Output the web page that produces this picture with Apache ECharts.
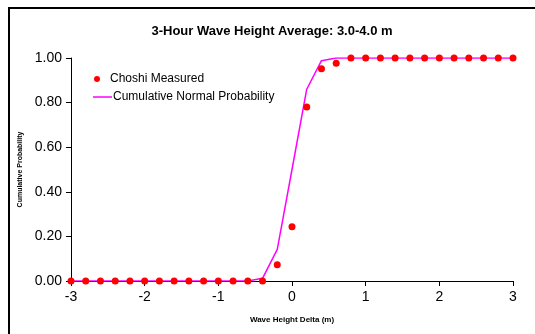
<!DOCTYPE html>
<html>
<head>
<meta charset="utf-8">
<script src="https://cdn.jsdelivr.net/npm/echarts@6/dist/echarts.min.js"></script>
<style>
  html, body { margin: 0; padding: 0; background: #fff; }
  #chart { width: 535px; height: 334px; }
</style>
</head>
<body>
<div id="chart"></div>
<script>
// wave height delta (m), step 0.2
var deltas = [-3, -2.8, -2.6, -2.4, -2.2, -2, -1.8, -1.6, -1.4, -1.2, -1, -0.8, -0.6, -0.4, -0.2,
  0, 0.2, 0.4, 0.6, 0.8, 1, 1.2, 1.4, 1.6, 1.8, 2, 2.2, 2.4, 2.6, 2.8, 3];
// Choshi measured cumulative probability
var measured = [0, 0, 0, 0, 0, 0, 0, 0, 0, 0, 0, 0, 0, 0, 0.073,
  0.243, 0.78, 0.952, 0.977, 1, 1, 1, 1, 1, 1, 1, 1, 1, 1, 1, 1];
// cumulative normal probability
var normal = [0, 0, 0, 0, 0, 0, 0, 0, 0, 0, 0, 0, 0, 0.012, 0.142,
  0.5, 0.86, 0.988, 1, 1, 1, 1, 1, 1, 1, 1, 1, 1, 1, 1, 1];

var font = 'Liberation Sans, Arial, sans-serif';

function pairs(ys) {
  var out = [];
  for (var i = 0; i < deltas.length; i++) out.push([deltas[i], ys[i]]);
  return out;
}

var chart = echarts.init(document.getElementById('chart'));
chart.setOption({
  animation: false,
  backgroundColor: '#fff',
  title: {
    text: '3-Hour Wave Height Average: 3.0-4.0 m',
    left: 267, top: 20, textAlign: 'center',
    textStyle: { fontFamily: font, fontSize: 13, fontWeight: 'bold', color: '#000' }
  },
  legend: [{
    data: [{ name: 'Choshi Measured', icon: 'circle' }],
    left: 89, top: 68, itemWidth: 18, itemHeight: 6, itemGap: 0,
    textStyle: { fontFamily: font, fontSize: 12, color: '#000', padding: [0, 0, 0, -1] }
  }, {
    data: [{ name: 'Cumulative Normal Probability', icon: 'rect' }],
    left: 88, top: 86, itemWidth: 19, itemHeight: 1.5, itemGap: 0,
    textStyle: { fontFamily: font, fontSize: 12, color: '#000', padding: [0, 0, 0, -4] }
  }],
  graphic: [{
    type: 'polyline',
    shape: { points: [[9, 340], [9, 8], [540, 8]] },
    style: { stroke: '#000', lineWidth: 2, fill: null },
    silent: true
  }],
  grid: { left: 71, right: 22, top: 58, bottom: 53 },
  xAxis: {
    type: 'value', min: -3, max: 3, interval: 1,
    name: 'Wave Height Delta (m)', nameLocation: 'middle', nameGap: 35,
    nameTextStyle: { fontFamily: font, fontSize: 8, fontWeight: 'bold', color: '#000' },
    axisLine: { onZero: false, lineStyle: { color: '#000', width: 1 } },
    axisTick: { inside: false, length: 5, lineStyle: { color: '#000' } },
    axisLabel: { fontFamily: font, fontSize: 14, color: '#000', margin: 9 },
    splitLine: { show: false }
  },
  yAxis: {
    type: 'value', min: 0, max: 1, interval: 0.2,
    name: 'Cumulative Probability', nameLocation: 'middle', nameGap: 41,
    nameTextStyle: { fontFamily: font, fontSize: 7, fontWeight: 'bold', color: '#000' },
    axisLine: { show: true, onZero: false, lineStyle: { color: '#000', width: 1 } },
    axisTick: { show: true, inside: false, length: 5, lineStyle: { color: '#000' } },
    axisLabel: {
      fontFamily: font, fontSize: 14, color: '#000', margin: 9,
      formatter: function (v) { return v.toFixed(2); }
    },
    splitLine: { show: false }
  },
  series: [{
    name: 'Cumulative Normal Probability',
    type: 'line',
    data: pairs(normal),
    showSymbol: false, symbol: 'none',
    lineStyle: { color: '#FF00FF', width: 1.5 },
    itemStyle: { color: '#FF00FF' },
    z: 2
  }, {
    name: 'Choshi Measured',
    type: 'scatter',
    data: pairs(measured),
    symbol: 'circle', symbolSize: 7,
    itemStyle: { color: '#FF0000', opacity: 1 },
    z: 3
  }]
});
</script>
</body>
</html>
